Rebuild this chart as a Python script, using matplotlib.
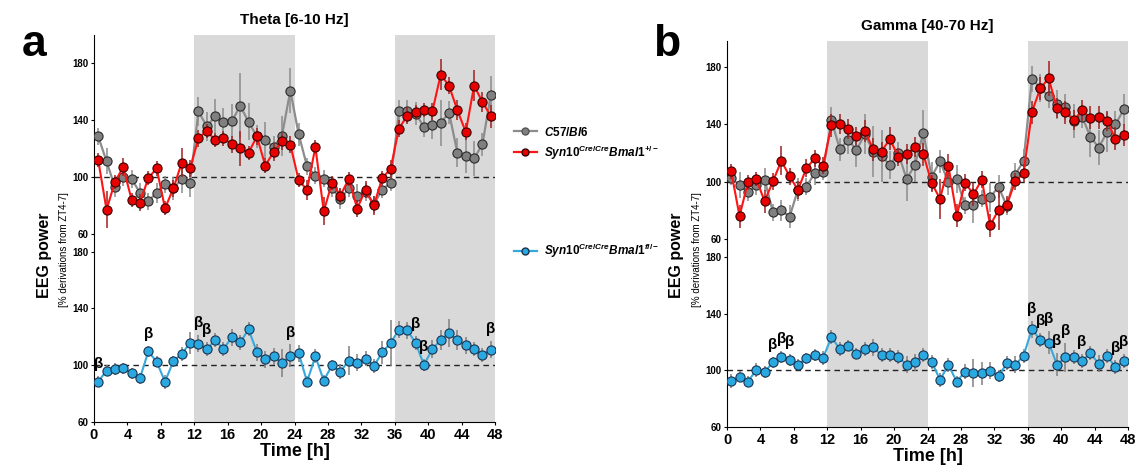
import matplotlib
matplotlib.use("Agg")
import matplotlib.pyplot as plt
from matplotlib.lines import Line2D
import numpy as np

plt.rcParams['font.family'] = ['Liberation Sans', 'DejaVu Sans']
plt.rcParams['mathtext.fontset'] = 'custom'
plt.rcParams['mathtext.it'] = 'Liberation Sans:italic:bold'
plt.rcParams['mathtext.rm'] = 'Liberation Sans:bold'
plt.rcParams['mathtext.default'] = 'it'

hours = np.arange(48) + 0.5
xticks = list(range(0, 49, 4))
yticks = [60, 100, 140, 180]

# ---- panel a: theta ----
theta_wt = [128.5, 111, 93, 100, 98.6, 89, 83, 89, 95, 92, 98.6, 96,
            146, 135.5, 142.6, 138.6, 139, 150, 138.6, 128.5, 125.7, 121, 129, 160.6,
            130, 107.5, 101, 98.8, 92, 84.6, 92, 87, 89.5, 81, 91, 96,
            146, 146, 144.5, 135, 136.7, 138, 145, 117, 115, 113, 123, 157.8]
theta_wt_err = [6, 9, 7, 6, 6, 7, 6, 7, 6, 8, 10, 10,
                10, 10, 12, 10, 12, 23, 13, 8, 13, 8, 14, 16,
                8, 6, 6, 6, 6, 7, 6, 8, 6, 6, 6, 6,
                8, 8, 8, 7, 10, 16, 8, 10, 12, 12, 8, 13]
theta_het = [112, 77, 96.5, 107, 84, 82, 99.3, 106, 78, 92, 110, 106,
             127, 132.5, 125.7, 127, 123, 120, 117, 128.5, 108, 117.5, 125, 122.7,
             97.7, 91, 121, 76, 96, 87, 98.8, 77.8, 91, 80, 99.3, 105.6,
             134, 143, 145.6, 146.8, 146, 171.8, 164, 146.8, 131.6, 164, 152.6, 142.6]
theta_het_err = [5, 13, 5, 6, 5, 6, 5, 5, 5, 6, 10, 6,
                 6, 5, 5, 5, 6, 12, 5, 6, 5, 6, 6, 6,
                 5, 7, 5, 10, 5, 5, 5, 6, 6, 7, 5, 6,
                 6, 6, 5, 5, 6, 11, 6, 7, 6, 11, 7, 8]
theta_fl = [88.4, 96.2, 97.4, 97.9, 94.3, 90.8, 109.7, 102.4, 88.4, 102.8, 108, 115.6,
            115.1, 111.4, 117.5, 111.4, 119.6, 116, 125.3, 109.2, 104.3, 106.2, 101.4, 106.6,
            108.5, 88.4, 106.2, 89.1, 100, 95.5, 103.3, 101.9, 104.7, 99.5, 109, 115.6,
            125.1, 124.6, 115.6, 100.2, 111.4, 117.8, 122.7, 117.5, 114, 111.6, 107.3, 110.9]
theta_fl_err = [4, 4, 4, 4, 4, 4, 4, 4, 5, 4, 5, 8,
                6, 5, 5, 5, 6, 5, 5, 6, 6, 6, 10, 8,
                6, 4, 5, 4, 4, 5, 10, 6, 5, 5, 8, 16,
                6, 6, 5, 4, 6, 7, 10, 7, 6, 5, 5, 6]
theta_beta = [0, 6, 12, 13, 23, 38, 39, 47]

# ---- panel b: gamma ----
gamma_wt = [102.5, 97.7, 92.6, 97.7, 101.4, 78.7, 79.9, 75.7, 94.5, 96.5, 106, 107,
            143, 122.7, 129.1, 122.2, 133, 121, 118, 111.6, 120, 101.8, 111.8, 134.2,
            103.5, 114.3, 99.5, 101.8, 83.4, 83.4, 88, 89.1, 96.5, 82.9, 104.9, 114.6,
            171.9, 165.4, 159.6, 153.9, 152, 142.3, 145.3, 131.4, 123.8, 134.7, 140, 150.4]
gamma_wt_err = [5, 9, 6, 7, 8, 6, 7, 8, 8, 6, 8, 6,
                9, 8, 10, 12, 14, 18, 18, 10, 8, 15, 12, 16,
                10, 8, 9, 10, 6, 12, 6, 10, 8, 6, 8, 8,
                9, 10, 8, 10, 9, 12, 8, 14, 12, 14, 9, 11]
gamma_het = [107.2, 76, 99.5, 101.8, 86.4, 100.2, 114.6, 103.7, 94.2, 109.5, 116.2, 111.1,
             139.5, 140, 137, 131.9, 135.4, 122.7, 121, 130, 117.3, 119, 124.5, 119.2,
             99, 88, 111, 76.4, 99.3, 91.2, 101.4, 69.5, 80.3, 84, 100.2, 106,
             148.6, 165.2, 172.1, 151.3, 148.3, 142.8, 149.7, 144.6, 145.1, 142.3, 130, 132.6]
gamma_het_err = [5, 8, 5, 5, 8, 6, 10, 6, 6, 6, 6, 6,
                 8, 7, 7, 6, 8, 8, 7, 8, 6, 7, 7, 8,
                 6, 14, 8, 8, 6, 8, 6, 8, 14, 6, 6, 6,
                 8, 8, 12, 7, 8, 7, 7, 8, 8, 7, 8, 8]
gamma_fl = [92.5, 95.5, 92, 100.2, 98.8, 105.6, 109.4, 107.3, 104, 108.4, 110.8, 108.9,
            123.2, 115.2, 117.4, 111.7, 115.2, 116.4, 110.6, 110.8, 109.4, 103.8, 105.6, 110.6,
            106.1, 93.2, 103.8, 92, 99.1, 97.9, 97.9, 99.8, 96, 104.9, 103.8, 110.3,
            129.1, 121.3, 119.5, 104, 109.1, 109.6, 106.8, 112, 104.5, 110.1, 102.1, 106.3]
gamma_fl_err = [5, 4, 4, 5, 4, 4, 4, 4, 4, 4, 4, 5,
                5, 5, 4, 4, 5, 6, 5, 5, 5, 6, 6, 5,
                5, 5, 5, 4, 5, 10, 8, 6, 4, 5, 6, 5,
                6, 5, 8, 8, 10, 5, 5, 5, 6, 5, 5, 5]
gamma_beta = [5, 6, 7, 36, 37, 38, 39, 40, 42, 46, 47]

panels = [
    dict(title="Theta [6-10 Hz]", letter="a", x0=94,
         wt=theta_wt, wt_err=theta_wt_err, het=theta_het, het_err=theta_het_err,
         fl=theta_fl, fl_err=theta_fl_err, beta=theta_beta,
         top=(35, 234), bot=(234, 422), ytop=(60, 199.6), ybot=(60, 192.4)),
    dict(title="Gamma [40-70 Hz]", letter="b", x0=727,
         wt=gamma_wt, wt_err=gamma_wt_err, het=gamma_het, het_err=gamma_het_err,
         fl=gamma_fl, fl_err=gamma_fl_err, beta=gamma_beta,
         top=(41, 239), bot=(239, 427), ytop=(60, 198.2), ybot=(60, 192.6)),
]

W, H = 1141, 472
fig = plt.figure(figsize=(W / 100, H / 100), dpi=100)

shade = "#d9d9d9"
grey_kw = dict(fmt='-o', color='#8c8c8c', mfc='#808080', mec='#2b2b2b', ms=6.6, mew=0.8,
               lw=1.6, ecolor='#8c8c8c', elinewidth=1.1, capsize=0, zorder=3)
red_kw = dict(fmt='-o', color='#ff1414', mfc='#e80000', mec='#3a0000', ms=6.6, mew=0.8,
              lw=1.5, ecolor='#a02020', elinewidth=1.1, capsize=0, zorder=4)
blue_kw = dict(fmt='-o', color='#36a9dc', mfc='#2aa8e0', mec='#1a3350', ms=6.6, mew=0.8,
               lw=1.5, ecolor='#808080', elinewidth=1.1, capsize=0, zorder=4)

for p in panels:
    left = p['x0'] / W
    width = 401 / W
    ax1 = fig.add_axes([left, 1 - p['top'][1] / H, width, (p['top'][1] - p['top'][0]) / H])
    ax2 = fig.add_axes([left, 1 - p['bot'][1] / H, width, (p['bot'][1] - p['bot'][0]) / H])

    for ax in (ax1, ax2):
        ax.axvspan(12, 24, color=shade, lw=0, zorder=0)
        ax.axvspan(36, 48, color=shade, lw=0, zorder=0)
        ax.axhline(100, color='#222222', ls='--', lw=1, dashes=(4, 3), zorder=2)
        ax.set_xlim(0, 48)
        ax.set_yticks(yticks)
        ax.spines['top'].set_visible(False)
        ax.spines['right'].set_visible(False)
        ax.tick_params(axis='y', labelsize=7, length=2, pad=2)
        for t in ax.get_yticklabels():
            t.set_fontweight('bold')

    ax1.errorbar(hours, p['wt'], yerr=p['wt_err'], **grey_kw)
    ax1.errorbar(hours, p['het'], yerr=p['het_err'], **red_kw)
    ax1.set_ylim(*p['ytop'])
    ax1.spines['bottom'].set_visible(False)
    ax1.tick_params(axis='x', bottom=False, labelbottom=False)
    ax1.set_title(p['title'], fontsize=11, fontweight='bold', pad=8)

    ax2.errorbar(hours, p['fl'], yerr=p['fl_err'], **blue_kw)
    ax2.set_ylim(*p['ybot'])
    ax2.set_xticks(xticks)
    ax2.tick_params(axis='x', labelsize=10.5, length=2, pad=2)
    for t in ax2.get_xticklabels():
        t.set_fontweight('bold')
    ax2.set_xlabel("Time [h]", fontsize=13, fontweight='bold', labelpad=1)

    for i in p['beta']:
        ax2.annotate("β", (hours[i], p['fl'][i] + p['fl_err'][i]), xytext=(0, 3.5),
                     textcoords='offset points', ha='center', va='bottom',
                     fontsize=11, fontweight='bold', zorder=5)

    # y label + panel letter
    fig.text((p['x0'] - 50) / W, 1 - 255 / H, "EEG power", rotation=90,
             fontsize=11.5, fontweight='bold', ha='center', va='center')
    fig.text((p['x0'] - 30) / W, 1 - 250 / H, "[% derivations from ZT4-7]", rotation=90,
             fontsize=7, ha='center', va='center')
    fig.text((p['x0'] - 60) / W, 1 - 45 / H, p['letter'], fontsize=32,
             fontweight='bold', ha='center', va='center')

handles = [Line2D([], [], color='#8c8c8c', marker='o', mfc='#808080', mec='#555555', ms=5, lw=1.6),
           Line2D([], [], color='#ff1414', marker='o', mfc='#e80000', mec='#3a0000', ms=5, lw=1.6)]
labels = [r"$C57/Bl6$", r"$Syn10^{Cre/Cre}Bmal1^{+/-}$"]
fig.legend(handles, labels, loc='upper left', bbox_to_anchor=(503 / W, 1 - 115 / H),
           frameon=False, fontsize=8.5, handlelength=2, handletextpad=0.6, labelspacing=0.4)
blue_h = [Line2D([], [], color='#36a9dc', marker='o', mfc='#2aa8e0', mec='#1a3350', ms=5, lw=1.6)]
fig.legend(blue_h, [r"$Syn10^{Cre/Cre}Bmal1^{fl/-}$"], loc='upper left',
           bbox_to_anchor=(503 / W, 1 - 231 / H), frameon=False, fontsize=8.5,
           handlelength=2, handletextpad=0.6)

fig.savefig("out.png", dpi=100)
